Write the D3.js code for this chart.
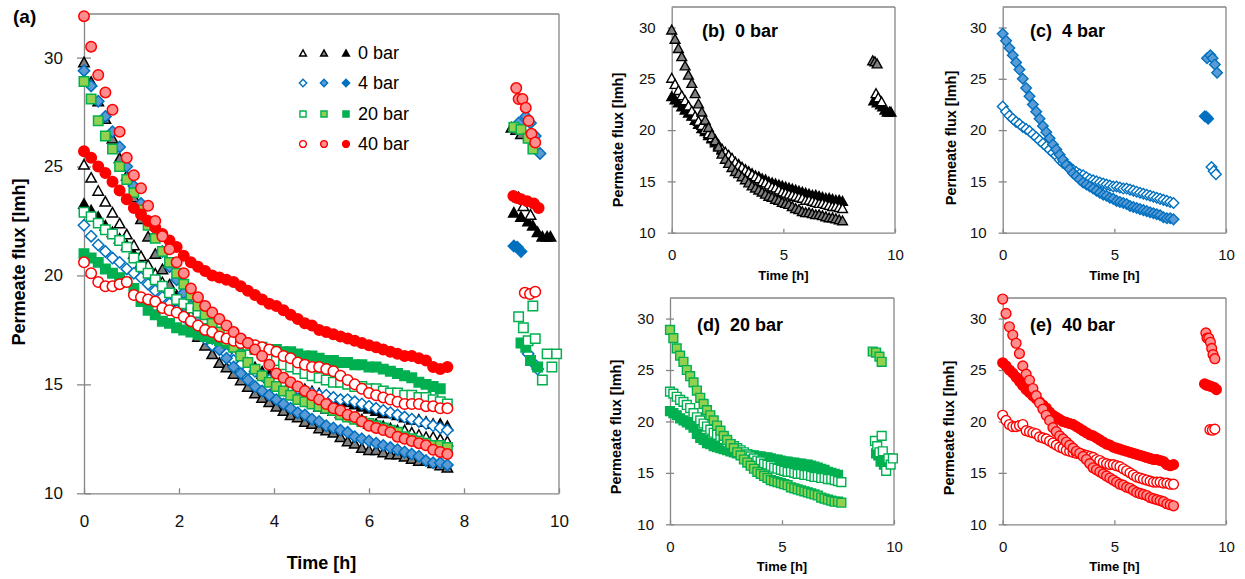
<!DOCTYPE html>
<html>
<head>
<meta charset="utf-8">
<script src="https://cdn.jsdelivr.net/npm/d3@7"></script>
<style>
  body { margin: 0; background: #fff; }
  text { font-family: "Liberation Sans", Arial, sans-serif; }
</style>
</head>
<body>
<svg id="chart" width="1245" height="579"></svg>
<script>
// sampling times of the filtration runs [h]
var runHours = [0, 0.15, 0.3, 0.45, 0.6, 0.75, 0.9, 1.05, 1.2, 1.35, 1.5, 1.65, 1.8, 1.95, 2.1, 2.25, 2.4, 2.55, 2.7, 2.85,
  3, 3.15, 3.3, 3.45, 3.6, 3.75, 3.9, 4.05, 4.2, 4.35, 4.5, 4.65, 4.8, 4.95, 5.1, 5.25, 5.4, 5.55, 5.7, 5.85,
  6, 6.15, 6.3, 6.45, 6.6, 6.75, 6.9, 7.05, 7.2, 7.35, 7.5, 7.65];

// permeate flux [lmh]
var flux0Open = [25.1, 24.5, 23.9, 23.4, 22.9, 22.4, 21.9, 21.4, 20.9, 20.5, 20.1, 19.7, 19.3, 19.1, 18.6, 18.2, 17.9, 17.6, 17.3, 16.9,
  16.6, 16.4, 16.1, 15.9, 15.7, 15.5, 15.3, 15.0, 14.9, 14.7, 14.5, 14.4, 14.2, 14.0, 13.9, 13.8, 13.7, 13.6, 13.5, 13.4,
  13.2, 13.2, 13.1, 13.0, 12.9, 12.9, 12.8, 12.7, 12.6, 12.6, 12.5, 12.4];
var flux0Shaded = [29.8, 28.9, 28.0, 27.2, 26.3, 25.4, 24.6, 23.6, 22.6, 21.8, 21.0, 20.3, 19.6, 19.0, 18.4, 17.7, 17.2, 16.8, 16.4, 16.0,
  15.8, 15.5, 15.2, 14.9, 14.6, 14.4, 14.2, 14.0, 13.8, 13.6, 13.5, 13.3, 13.2, 13.0, 12.9, 12.8, 12.6, 12.4, 12.3, 12.1,
  12.0, 12.0, 11.9, 11.8, 11.8, 11.7, 11.6, 11.5, 11.5, 11.4, 11.3, 11.2];
var flux0Filled = [23.3, 23.0, 22.7, 22.3, 22.0, 21.7, 21.4, 21.0, 20.6, 20.2, 19.9, 19.5, 19.2, 18.8, 18.5, 18.1, 17.8, 17.5, 17.2, 16.9,
  16.7, 16.4, 16.2, 16.0, 15.8, 15.6, 15.5, 15.3, 15.2, 15.0, 14.9, 14.8, 14.7, 14.6, 14.5, 14.4, 14.3, 14.2, 14.1, 14.0,
  13.9, 13.8, 13.7, 13.7, 13.6, 13.5, 13.4, 13.4, 13.3, 13.2, 13.2, 13.1];
var flux4Open = [22.3, 21.8, 21.4, 21.1, 20.8, 20.6, 20.3, 20.1, 19.9, 19.6, 19.3, 19.0, 18.7, 18.4, 18.1, 17.8, 17.5, 17.1, 16.8, 16.6,
  16.4, 16.1, 15.9, 15.7, 15.6, 15.4, 15.2, 15.1, 15.0, 14.9, 14.8, 14.7, 14.6, 14.5, 14.5, 14.4, 14.3, 14.3, 14.2, 14.1,
  14.0, 13.9, 13.8, 13.7, 13.6, 13.5, 13.4, 13.3, 13.2, 13.1, 13.0, 12.9];
var flux4Shaded = [29.4, 28.7, 28.0, 27.3, 26.6, 25.9, 25.0, 24.1, 23.3, 22.5, 21.8, 21.1, 20.4, 19.8, 19.2, 18.6, 18.1, 17.6, 17.1, 16.6,
  16.2, 15.8, 15.5, 15.2, 14.9, 14.7, 14.5, 14.3, 14.1, 13.9, 13.7, 13.6, 13.4, 13.3, 13.1, 13.0, 12.9, 12.8, 12.6, 12.5,
  12.4, 12.3, 12.2, 12.1, 12.0, 11.9, 11.8, 11.7, 11.5, 11.4, 11.4, 11.3];
var flux4Filled = [];
var flux20Open = [22.9, 22.7, 22.4, 22.1, 21.9, 21.6, 21.3, 20.8, 20.4, 20.1, 19.8, 19.5, 19.2, 18.9, 18.7, 18.5, 18.3, 18.0, 17.8, 17.6,
  17.4, 17.2, 17.0, 16.8, 16.6, 16.4, 16.2, 16.1, 15.9, 15.8, 15.7, 15.5, 15.4, 15.3, 15.2, 15.1, 15.1, 15.0, 14.9, 14.9,
  14.8, 14.8, 14.7, 14.6, 14.6, 14.5, 14.5, 14.4, 14.4, 14.3, 14.2, 14.1];
var flux20Shaded = [28.9, 28.1, 27.1, 26.4, 25.8, 25.0, 24.4, 23.8, 23.0, 22.3, 21.7, 21.1, 20.6, 20.1, 19.6, 19.1, 18.6, 18.2, 17.8, 17.4,
  17.0, 16.7, 16.3, 16.0, 15.7, 15.4, 15.1, 14.9, 14.7, 14.5, 14.3, 14.2, 14.1, 14.0, 13.9, 13.8, 13.6, 13.5, 13.4, 13.3,
  13.2, 13.1, 13.0, 12.9, 12.8, 12.6, 12.5, 12.4, 12.3, 12.2, 12.2, 12.1];
var flux20Filled = [21.0, 20.8, 20.6, 20.3, 20.1, 19.9, 19.7, 19.4, 18.8, 18.4, 18.2, 17.9, 17.8, 17.6, 17.5, 17.4, 17.3, 17.2, 17.1, 17.0,
  16.9, 16.9, 16.8, 16.8, 16.7, 16.7, 16.6, 16.6, 16.5, 16.5, 16.4, 16.3, 16.3, 16.2, 16.1, 16.1, 16.0, 16.0, 15.9, 15.9,
  15.8, 15.8, 15.7, 15.6, 15.5, 15.4, 15.3, 15.1, 15.0, 14.9, 14.8];
var flux40Open = [20.6, 20.1, 19.7, 19.5, 19.5, 19.6, 19.7, 19.1, 19.0, 18.9, 18.8, 18.5, 18.4, 18.3, 18.1, 17.9, 17.7, 17.5, 17.4, 17.2,
  17.1, 17.0, 16.9, 16.9, 16.8, 16.7, 16.6, 16.5, 16.3, 16.2, 16.0, 15.9, 15.8, 15.8, 15.7, 15.6, 15.4, 15.2, 15.0, 14.8,
  14.6, 14.5, 14.4, 14.3, 14.2, 14.1, 14.1, 14.1, 14.0, 14.0, 13.9, 13.9];
var flux40Shaded = [31.9, 30.5, 29.2, 28.4, 27.6, 26.6, 25.4, 24.6, 24.0, 23.2, 22.5, 21.8, 21.2, 20.6, 20.1, 19.4, 19.0, 18.6, 18.3, 18.0,
  17.7, 17.4, 17.1, 16.9, 16.6, 16.3, 15.9, 15.5, 15.3, 15.1, 14.9, 14.7, 14.5, 14.3, 14.1, 13.9, 13.8, 13.6, 13.5, 13.3,
  13.1, 13.0, 12.9, 12.8, 12.6, 12.5, 12.4, 12.3, 12.2, 12.0, 11.9, 11.8];
var flux40Filled = [25.7, 25.4, 25.0, 24.7, 24.3, 23.9, 23.5, 23.1, 22.8, 22.5, 22.2, 21.9, 21.6, 21.3, 20.9, 20.6, 20.4, 20.2, 20.0, 19.9,
  19.8, 19.7, 19.5, 19.3, 19.1, 18.9, 18.7, 18.6, 18.4, 18.2, 18.0, 17.8, 17.7, 17.5, 17.4, 17.3, 17.2, 17.1, 17.0, 16.9,
  16.8, 16.7, 16.6, 16.5, 16.4, 16.3, 16.3, 16.2, 16.1, 15.8, 15.7, 15.8];

// points measured again after the break (9 - 10 h)
var late0OpenHours = [9.15, 9.25, 9.4], late0OpenFlux = [23.6, 23.2, 22.8];
var late0ShadedHours = [9.0, 9.1, 9.2], late0ShadedFlux = [26.8, 26.7, 26.5];
var late0FilledHours = [9.05, 9.2, 9.35, 9.45, 9.55, 9.65, 9.75, 9.82], late0FilledFlux = [22.9, 22.7, 22.5, 22.3, 22.0, 21.8, 21.8, 21.8];
var late4OpenHours = [9.35, 9.45, 9.55], late4OpenFlux = [16.4, 16.0, 15.7];
var late4ShadedHours = [9.15, 9.3, 9.4, 9.5, 9.6], late4ShadedFlux = [27.0, 27.3, 27.0, 26.4, 25.6];
var late4FilledHours = [9.05, 9.12, 9.2], late4FilledFlux = [21.35, 21.3, 21.1];
var late20OpenHours = [9.15, 9.25, 9.35, 9.45, 9.5, 9.65, 9.75, 9.85, 9.95], late20OpenFlux = [18.1, 17.6, 17.0, 18.6, 17.1, 15.2, 16.4, 15.8, 16.4];
var late20ShadedHours = [9.05, 9.2, 9.35, 9.45], late20ShadedFlux = [26.8, 26.7, 26.3, 25.8];
var late20FilledHours = [9.2, 9.3, 9.4, 9.55], late20FilledFlux = [16.9, 16.7, 16.1, 15.8];
var late40OpenHours = [9.28, 9.39, 9.5], late40OpenFlux = [19.2, 19.15, 19.25];
var late40ShadedHours = [9.1, 9.15, 9.23, 9.3, 9.36, 9.42, 9.5], late40ShadedFlux = [28.6, 28.1, 28.1, 27.7, 27.1, 26.5, 26.1];
var late40FilledHours = [9.04, 9.12, 9.2, 9.33, 9.47, 9.57], late40FilledFlux = [23.65, 23.55, 23.5, 23.4, 23.3, 23.1];

var pressureLabels = ["0 bar", "4 bar", "20 bar", "40 bar"];
var xTicksMain = [0, 2, 4, 6, 8, 10];
var xTicksSmall = [0, 5, 10];
var yTicks = [10, 15, 20, 25, 30];

var groups = [
  { label: pressureLabels[0], shape: "triangle", dark: "#000000", light: "#808080",
    open: [late0OpenHours, late0OpenFlux, flux0Open], shaded: [late0ShadedHours, late0ShadedFlux, flux0Shaded], filled: [late0FilledHours, late0FilledFlux, flux0Filled] },
  { label: pressureLabels[1], shape: "diamond", dark: "#0070C0", light: "#5B9BD5",
    open: [late4OpenHours, late4OpenFlux, flux4Open], shaded: [late4ShadedHours, late4ShadedFlux, flux4Shaded], filled: [late4FilledHours, late4FilledFlux, flux4Filled] },
  { label: pressureLabels[2], shape: "square", dark: "#00B050", light: "#92D050",
    open: [late20OpenHours, late20OpenFlux, flux20Open], shaded: [late20ShadedHours, late20ShadedFlux, flux20Shaded], filled: [late20FilledHours, late20FilledFlux, flux20Filled] },
  { label: pressureLabels[3], shape: "circle", dark: "#FF0000", light: "#FF8F8F",
    open: [late40OpenHours, late40OpenFlux, flux40Open], shaded: [late40ShadedHours, late40ShadedFlux, flux40Shaded], filled: [late40FilledHours, late40FilledFlux, flux40Filled] }
];

var axisColor = "#868686";
var svg = d3.select("#chart");

function markerPath(shape, k) {
  if (shape === "triangle") {
    var w = 10 * k, h = 9 * k;
    return "M0," + (-h / 2) + "L" + (w / 2) + "," + (h / 2) + "L" + (-w / 2) + "," + (h / 2) + "Z";
  }
  if (shape === "diamond") {
    var r = 5.4 * k;
    return "M0," + (-r) + "L" + r + ",0L0," + r + "L" + (-r) + ",0Z";
  }
  if (shape === "square") {
    var a = 4.5 * k;
    return "M" + (-a) + "," + (-a) + "H" + a + "V" + a + "H" + (-a) + "Z";
  }
  var c = 5 * k;
  return "M" + c + ",0A" + c + "," + c + " 0 1 1 " + (-c) + ",0A" + c + "," + c + " 0 1 1 " + c + ",0Z";
}

function styleOf(group, kind) {
  if (kind === "open") return { fill: "#ffffff", stroke: group.dark };
  if (kind === "shaded") return { fill: group.light, stroke: group.dark };
  return { fill: group.dark, stroke: group.dark };
}

function pointsOf(parts) {
  var lateHours = parts[0], lateFlux = parts[1], flux = parts[2];
  var pts = flux.map(function (f, i) { return [runHours[i], f]; });
  return pts.concat(lateFlux.map(function (f, i) { return [lateHours[i], f]; }));
}

function drawPanel(cfg) {
  var x = d3.scaleLinear().domain([0, 10]).range(cfg.xRange);
  var y = d3.scaleLinear().domain([10, 32]).range(cfg.yRange);
  var g = svg.append("g");

  // box top and right
  g.append("line").attr("x1", x(0)).attr("x2", x(10)).attr("y1", y(32)).attr("y2", y(32))
    .attr("stroke", axisColor).attr("stroke-width", 1.3);
  g.append("line").attr("x1", x(10)).attr("x2", x(10)).attr("y1", y(32)).attr("y2", y(10))
    .attr("stroke", axisColor).attr("stroke-width", 1.3);

  var gx = g.append("g").attr("transform", "translate(0," + y(10) + ")")
    .call(d3.axisBottom(x).tickValues(cfg.xTicks).tickSizeInner(-cfg.xTickLen).tickSizeOuter(0).tickFormat(d3.format("d")));
  gx.selectAll("text").attr("y", cfg.xLabelOff).attr("dy", "0.35em");

  var gy = g.append("g").attr("transform", "translate(" + x(0) + ",0)")
    .call(d3.axisLeft(y).tickValues(yTicks).tickSizeInner(cfg.yTickLen).tickSizeOuter(0).tickPadding(cfg.yPad));
  // y ticks cross the axis
  gy.selectAll(".tick line").attr("x1", cfg.yTickLen);

  [gx, gy].forEach(function (ax) {
    ax.attr("font-family", null).attr("font-size", cfg.tickFont);
    ax.select(".domain").attr("stroke", axisColor).attr("stroke-width", 1.3);
    ax.selectAll(".tick line").attr("stroke", axisColor).attr("stroke-width", 1.3);
    ax.selectAll("text").attr("fill", "#111");
  });

  cfg.groups.forEach(function (grp) {
    ["filled", "open", "shaded"].forEach(function (kind) {
      var st = styleOf(grp, kind);
      g.append("g").selectAll("path")
        .data(pointsOf(grp[kind]))
        .join("path")
        .attr("transform", function (d) { return "translate(" + x(d[0]) + "," + y(d[1]) + ")"; })
        .attr("d", markerPath(grp.shape, cfg.markerScale))
        .attr("fill", st.fill)
        .attr("stroke", st.stroke)
        .attr("stroke-width", cfg.markerStroke);
    });
  });

  // axis titles
  g.append("text").attr("x", (cfg.xRange[0] + cfg.xRange[1]) / 2).attr("y", cfg.xTitleY)
    .attr("text-anchor", "middle").attr("dy", "0.35em").attr("font-weight", "bold")
    .attr("font-size", cfg.xTitleFont).text("Time [h]");
  g.append("text").attr("transform", "translate(" + cfg.yTitleX + "," + cfg.yTitleY + ") rotate(-90)")
    .attr("text-anchor", "middle").attr("dy", "0.35em").attr("font-weight", "bold")
    .attr("font-size", cfg.yTitleFont).text("Permeate flux [lmh]");

  g.append("text").attr("x", cfg.titleX).attr("y", cfg.titleY)
    .attr("font-weight", "bold").attr("font-size", cfg.titleFont)
    .style("white-space", "pre").text(cfg.title);
  return g;
}

// (a) all pressures
var mainPanel = drawPanel({
  xRange: [84, 559], yRange: [493.3, 14], xTicks: xTicksMain, xTickLen: 5, yTickLen: 7, yPad: 14,
  xLabelOff: 27.4, tickFont: 17, groups: groups, markerScale: 1.05, markerStroke: 1.5,
  xTitleY: 563, xTitleFont: 18, yTitleX: 19, yTitleY: 262, yTitleFont: 18,
  title: "(a)", titleX: 13, titleY: 23, titleFont: 19
});

// legend of (a)
var legendRows = [53, 83, 114, 144];
var legendCols = [303, 324, 346];
groups.forEach(function (grp, i) {
  ["open", "shaded", "filled"].forEach(function (kind, j) {
    var st = styleOf(grp, kind);
    mainPanel.append("path")
      .attr("transform", "translate(" + legendCols[j] + "," + legendRows[i] + ")")
      .attr("d", markerPath(grp.shape, 0.68))
      .attr("fill", st.fill).attr("stroke", st.stroke).attr("stroke-width", 1.4);
  });
  mainPanel.append("text").attr("x", 358).attr("y", legendRows[i]).attr("dy", "0.36em")
    .attr("font-size", 18).attr("fill", "#000").text(grp.label);
});

// (b)-(e) one pressure each
var smallPanels = [
  { title: "(b)  0 bar", xRange: [671.7, 895], yRange: [232.7, 7], titleX: 702, titleY: 37, yTitleX: 617.5, yTitleY: 140 },
  { title: "(c)  4 bar", xRange: [1002.7, 1226], yRange: [232.7, 7], titleX: 1030, titleY: 37, yTitleX: 951, yTitleY: 138 },
  { title: "(d)  20 bar", xRange: [670, 894], yRange: [524.3, 298], titleX: 697, titleY: 331, yTitleX: 616, yTitleY: 427 },
  { title: "(e)  40 bar", xRange: [1002.7, 1226], yRange: [524.3, 298], titleX: 1030, titleY: 331, yTitleX: 949, yTitleY: 428 }
];
smallPanels.forEach(function (p, i) {
  drawPanel({
    xRange: p.xRange, yRange: p.yRange, xTicks: xTicksSmall, xTickLen: 4, yTickLen: 4, yPad: 12,
    xLabelOff: 22.3, tickFont: 15, groups: [groups[i]], markerScale: 0.98, markerStroke: 1.4,
    xTitleY: p.yRange[0] + 42.4, xTitleFont: 13, yTitleX: p.yTitleX, yTitleY: p.yTitleY, yTitleFont: 14.5,
    title: p.title, titleX: p.titleX, titleY: p.titleY, titleFont: 18
  });
});
</script>
</body>
</html>
